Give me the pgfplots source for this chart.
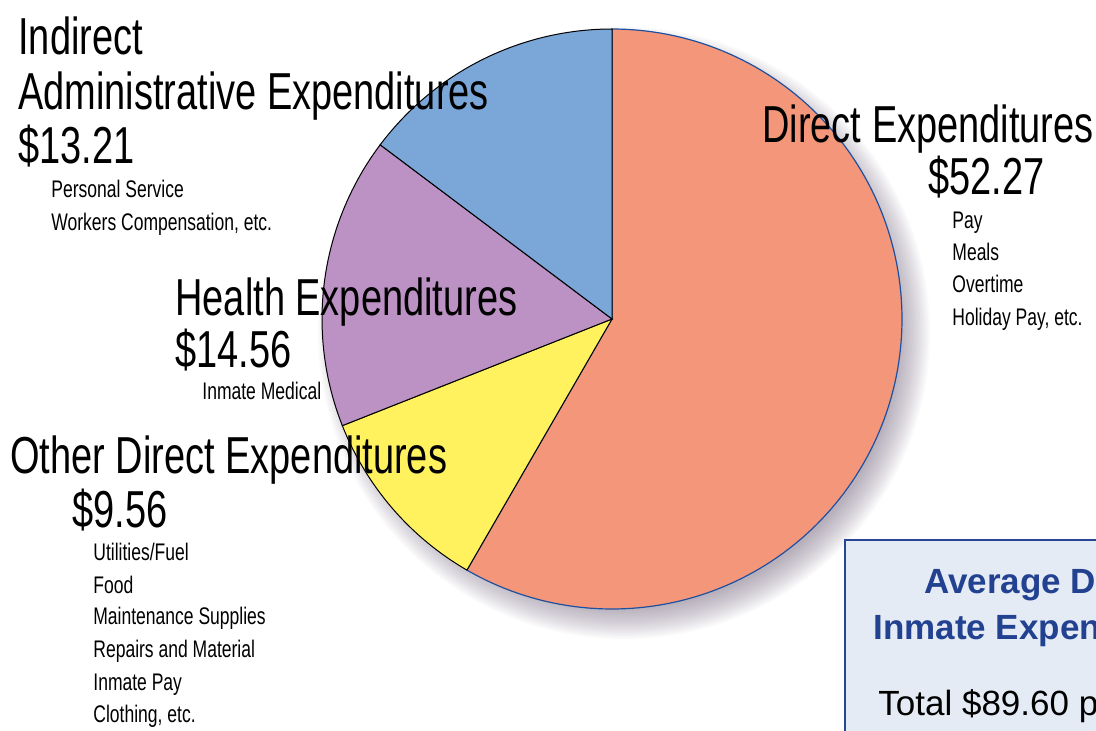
\documentclass[border=0pt]{standalone}
\usepackage{pgfplots}
\pgfplotsset{compat=1.18}
\usepackage{pgfplotstable}
\usepackage{fontspec}
\setmainfont{Liberation Sans}[FakeStretch=0.73]
\newfontfamily\boxfont{Liberation Sans}
\definecolor{cOrange}{RGB}{244,150,122}
\definecolor{cYellow}{RGB}{255,242,94}
\definecolor{cPurple}{RGB}{188,146,196}
\definecolor{cBlue}{RGB}{123,166,216}
\definecolor{cLine}{RGB}{30,80,160}
\definecolor{boxBlue}{RGB}{40,70,150}
\definecolor{boxFill}{RGB}{228,235,244}
\definecolor{boxText}{RGB}{35,65,145}
\definecolor{shadowC}{RGB}{105,90,115}

\pgfplotstableread{
label value
Direct 52.27
Other 9.56
Health 14.56
Indirect 13.21
}\pietable

\tikzset{
  big/.style={font=\fontsize{26}{27}\selectfont, anchor=base west, inner sep=0pt},
  small/.style={font=\fontsize{12}{13}\selectfont, anchor=base west, inner sep=0pt},
  boxb/.style={font=\boxfont\bfseries\fontsize{17.5}{18}\selectfont, text=boxText, anchor=base west, inner sep=0pt},
  boxr/.style={font=\boxfont\fontsize{17.5}{18}\selectfont, anchor=base west, inner sep=0pt},
}

\begin{document}
\begin{tikzpicture}
\pgfplotstablegetelem{0}{value}\of\pietable \edef\vA{\pgfplotsretval}
\pgfplotstablegetelem{1}{value}\of\pietable \edef\vB{\pgfplotsretval}
\pgfplotstablegetelem{2}{value}\of\pietable \edef\vC{\pgfplotsretval}
\pgfplotstablegetelem{3}{value}\of\pietable \edef\vD{\pgfplotsretval}
\pgfmathsetmacro\tot{\vA+\vB+\vC+\vD}
\pgfmathsetmacro\aA{90-\vA/\tot*360}
\pgfmathsetmacro\aB{\aA-\vB/\tot*360}
\pgfmathsetmacro\aC{\aB-\vC/\tot*360}
\pgfmathsetmacro\aD{\aC-\vD/\tot*360}
\useasboundingbox (0,0) rectangle (548pt,365pt);
\clip (0,0) rectangle (548pt,365pt);
% soft shadow
\foreach \i in {0,...,19}{
  \fill[shadowC, opacity=0.032] (312pt,198.5pt) circle[radius={153pt-\i*0.8pt}];
}
\begin{axis}[
  at={(0,0)}, anchor=south west,
  scale only axis, width=548pt, height=365pt,
  xmin=0, xmax=1096, ymin=0, ymax=730,
  hide axis, clip=false,
]
\addplot[fill=cOrange, draw=cLine, line width=0.6pt, domain=\aA:90, samples=150, variable=\t]
  ({612+290*cos(\t)},{411+290*sin(\t)}) -- (axis cs:612,411) -- cycle;
\addplot[fill=cYellow, draw=black, line width=0.5pt, domain=\aB:\aA, samples=40, variable=\t]
  ({612+290*cos(\t)},{411+290*sin(\t)}) -- (axis cs:612,411) -- cycle;
\addplot[fill=cPurple, draw=black, line width=0.5pt, domain=\aC:\aB, samples=50, variable=\t]
  ({612+290*cos(\t)},{411+290*sin(\t)}) -- (axis cs:612,411) -- cycle;
\addplot[fill=cBlue, draw=black, line width=0.5pt, domain=\aD:\aC, samples=50, variable=\t]
  ({612+290*cos(\t)},{411+290*sin(\t)}) -- (axis cs:612,411) -- cycle;

% Indirect
\node[big] at (axis cs:18,675) {Indirect};
\node[big] at (axis cs:18,620) {Administrative Expenditures};
\node[big] at (axis cs:18,567) {\$13.21};
\node[small] at (axis cs:51,533) {Personal Service};
\node[small] at (axis cs:51,500) {Workers Compensation, etc.};
% Direct
\node[big] at (axis cs:762,588) {Direct Expenditures};
\node[big] at (axis cs:928,536) {\$52.27};
\node[small] at (axis cs:952,502) {Pay};
\node[small] at (axis cs:952,470) {Meals};
\node[small] at (axis cs:952,438) {Overtime};
\node[small] at (axis cs:952,405) {Holiday Pay, etc.};
% Health
\node[big] at (axis cs:175,415) {Health Expenditures};
\node[big] at (axis cs:175,363) {\$14.56};
\node[small] at (axis cs:202,331) {Inmate Medical};
% Other direct
\node[big] at (axis cs:10,257) {Other Direct Expenditures};
\node[big] at (axis cs:72,203) {\$9.56};
\node[small] at (axis cs:93,170) {Utilities/Fuel};
\node[small] at (axis cs:93,137) {Food};
\node[small] at (axis cs:93,106) {Maintenance Supplies};
\node[small] at (axis cs:93,73) {Repairs and Material};
\node[small] at (axis cs:93,40) {Inmate Pay};
\node[small] at (axis cs:93,8) {Clothing, etc.};
% Box
\draw[draw=boxBlue, fill=boxFill, line width=1.1pt] (axis cs:845,190) rectangle (axis cs:1300,-60);
\node[boxb] at (axis cs:924,137) {Average Daily};
\node[boxb] at (axis cs:873,91) {Inmate Expenditure};
\node[boxr] at (axis cs:878,15) {Total \$89.60 per day};
\end{axis}
\end{tikzpicture}
\end{document}
